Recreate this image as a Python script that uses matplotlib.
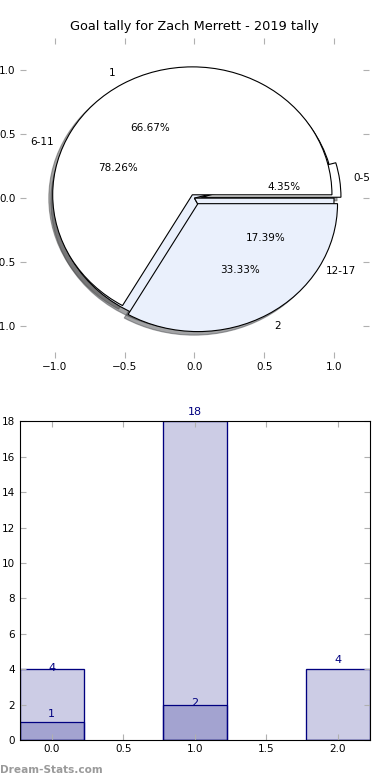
import matplotlib
matplotlib.use('Agg')
import matplotlib.pyplot as plt

# pie data
age_labels = ['0-5', '6-11', '12-17']
age_counts = [1, 18, 4]
goal_labels = ['1', '2']
goal_counts = [2, 1]

# bar data
bar_x = [0, 1, 2]
bar_totals = [4, 18, 4]
bar_goals = [1, 2, 0]

title = 'Goal tally for Zach Merrett - 2019 tally'
light_blue = '#eaf0fc'
navy = '#000080'
tick_grey = '#b0b0b0'

fig = plt.figure(figsize=(3.9, 7.8), dpi=100)

# --- pie ---
ax1 = fig.add_axes([0.051, 0.541, 0.895, 0.41])
wedge_kw = {'edgecolor': 'black', 'linewidth': 0.8}
ax1.pie(age_counts, labels=age_labels, explode=(0.05, 0, 0),
        colors=['white', light_blue, light_blue], autopct='%.2f%%',
        shadow=True, wedgeprops=wedge_kw, textprops={'fontsize': 7.5})
ax1.pie(goal_counts, labels=goal_labels, explode=(0.03, 0.05),
        colors=['white', light_blue], autopct='%.2f%%',
        shadow=True, wedgeprops=wedge_kw, textprops={'fontsize': 7.5})
ax1.set_aspect('auto')
ax1.set_frame_on(True)
for s in ax1.spines.values():
    s.set_visible(False)
ax1.set_xlim(-1.25, 1.25)
ax1.set_ylim(-1.25, 1.25)
ticks = [-1.0, -0.5, 0.0, 0.5, 1.0]
ax1.set_xticks(ticks)
ax1.set_yticks(ticks)
ax1.tick_params(direction='in', length=4, color=tick_grey, labelsize=7.5,
                top=True, right=True, pad=3)
ax1.set_title(title, fontsize=9.3, pad=6)

# --- bars ---
ax2 = fig.add_axes([0.05, 0.051, 0.899, 0.409])
ax2.bar(bar_x, bar_totals, width=0.45, color=navy, alpha=0.2, edgecolor=navy)
ax2.bar(bar_x, bar_totals, width=0.45, fill=False, edgecolor=navy, linewidth=0.9)
ax2.bar(bar_x, bar_goals, width=0.45, color=navy, alpha=0.2)
ax2.bar(bar_x, bar_goals, width=0.45, fill=False, edgecolor=navy, linewidth=0.9)
offsets_tot = [0.1, 0.5, 0.5]
offsets_goal = [0.5, 0.1, 0.5]
for x, h, off in zip(bar_x, bar_totals, offsets_tot):
    ax2.text(x, h + off, str(h), ha='center', va='center', color=navy, fontsize=8)
for x, h, off in zip(bar_x, bar_goals, offsets_goal):
    if h:
        ax2.text(x, h + off, str(h), ha='center', va='center', color=navy, fontsize=8)
ax2.set_xlim(-0.225, 2.225)
ax2.set_ylim(0, 18)
ax2.set_yticks(range(0, 19, 2))
ax2.set_xticks([0.0, 0.5, 1.0, 1.5, 2.0])
ax2.tick_params(direction='in', length=4, color=tick_grey, labelsize=7.5,
                top=True, right=True, pad=3)

fig.text(0.0, 0.006, 'Dream-Stats.com', fontsize=7.6, fontweight='bold', color='#9a9a9a',
         ha='left', va='bottom')

fig.savefig('out.png', dpi=100)
